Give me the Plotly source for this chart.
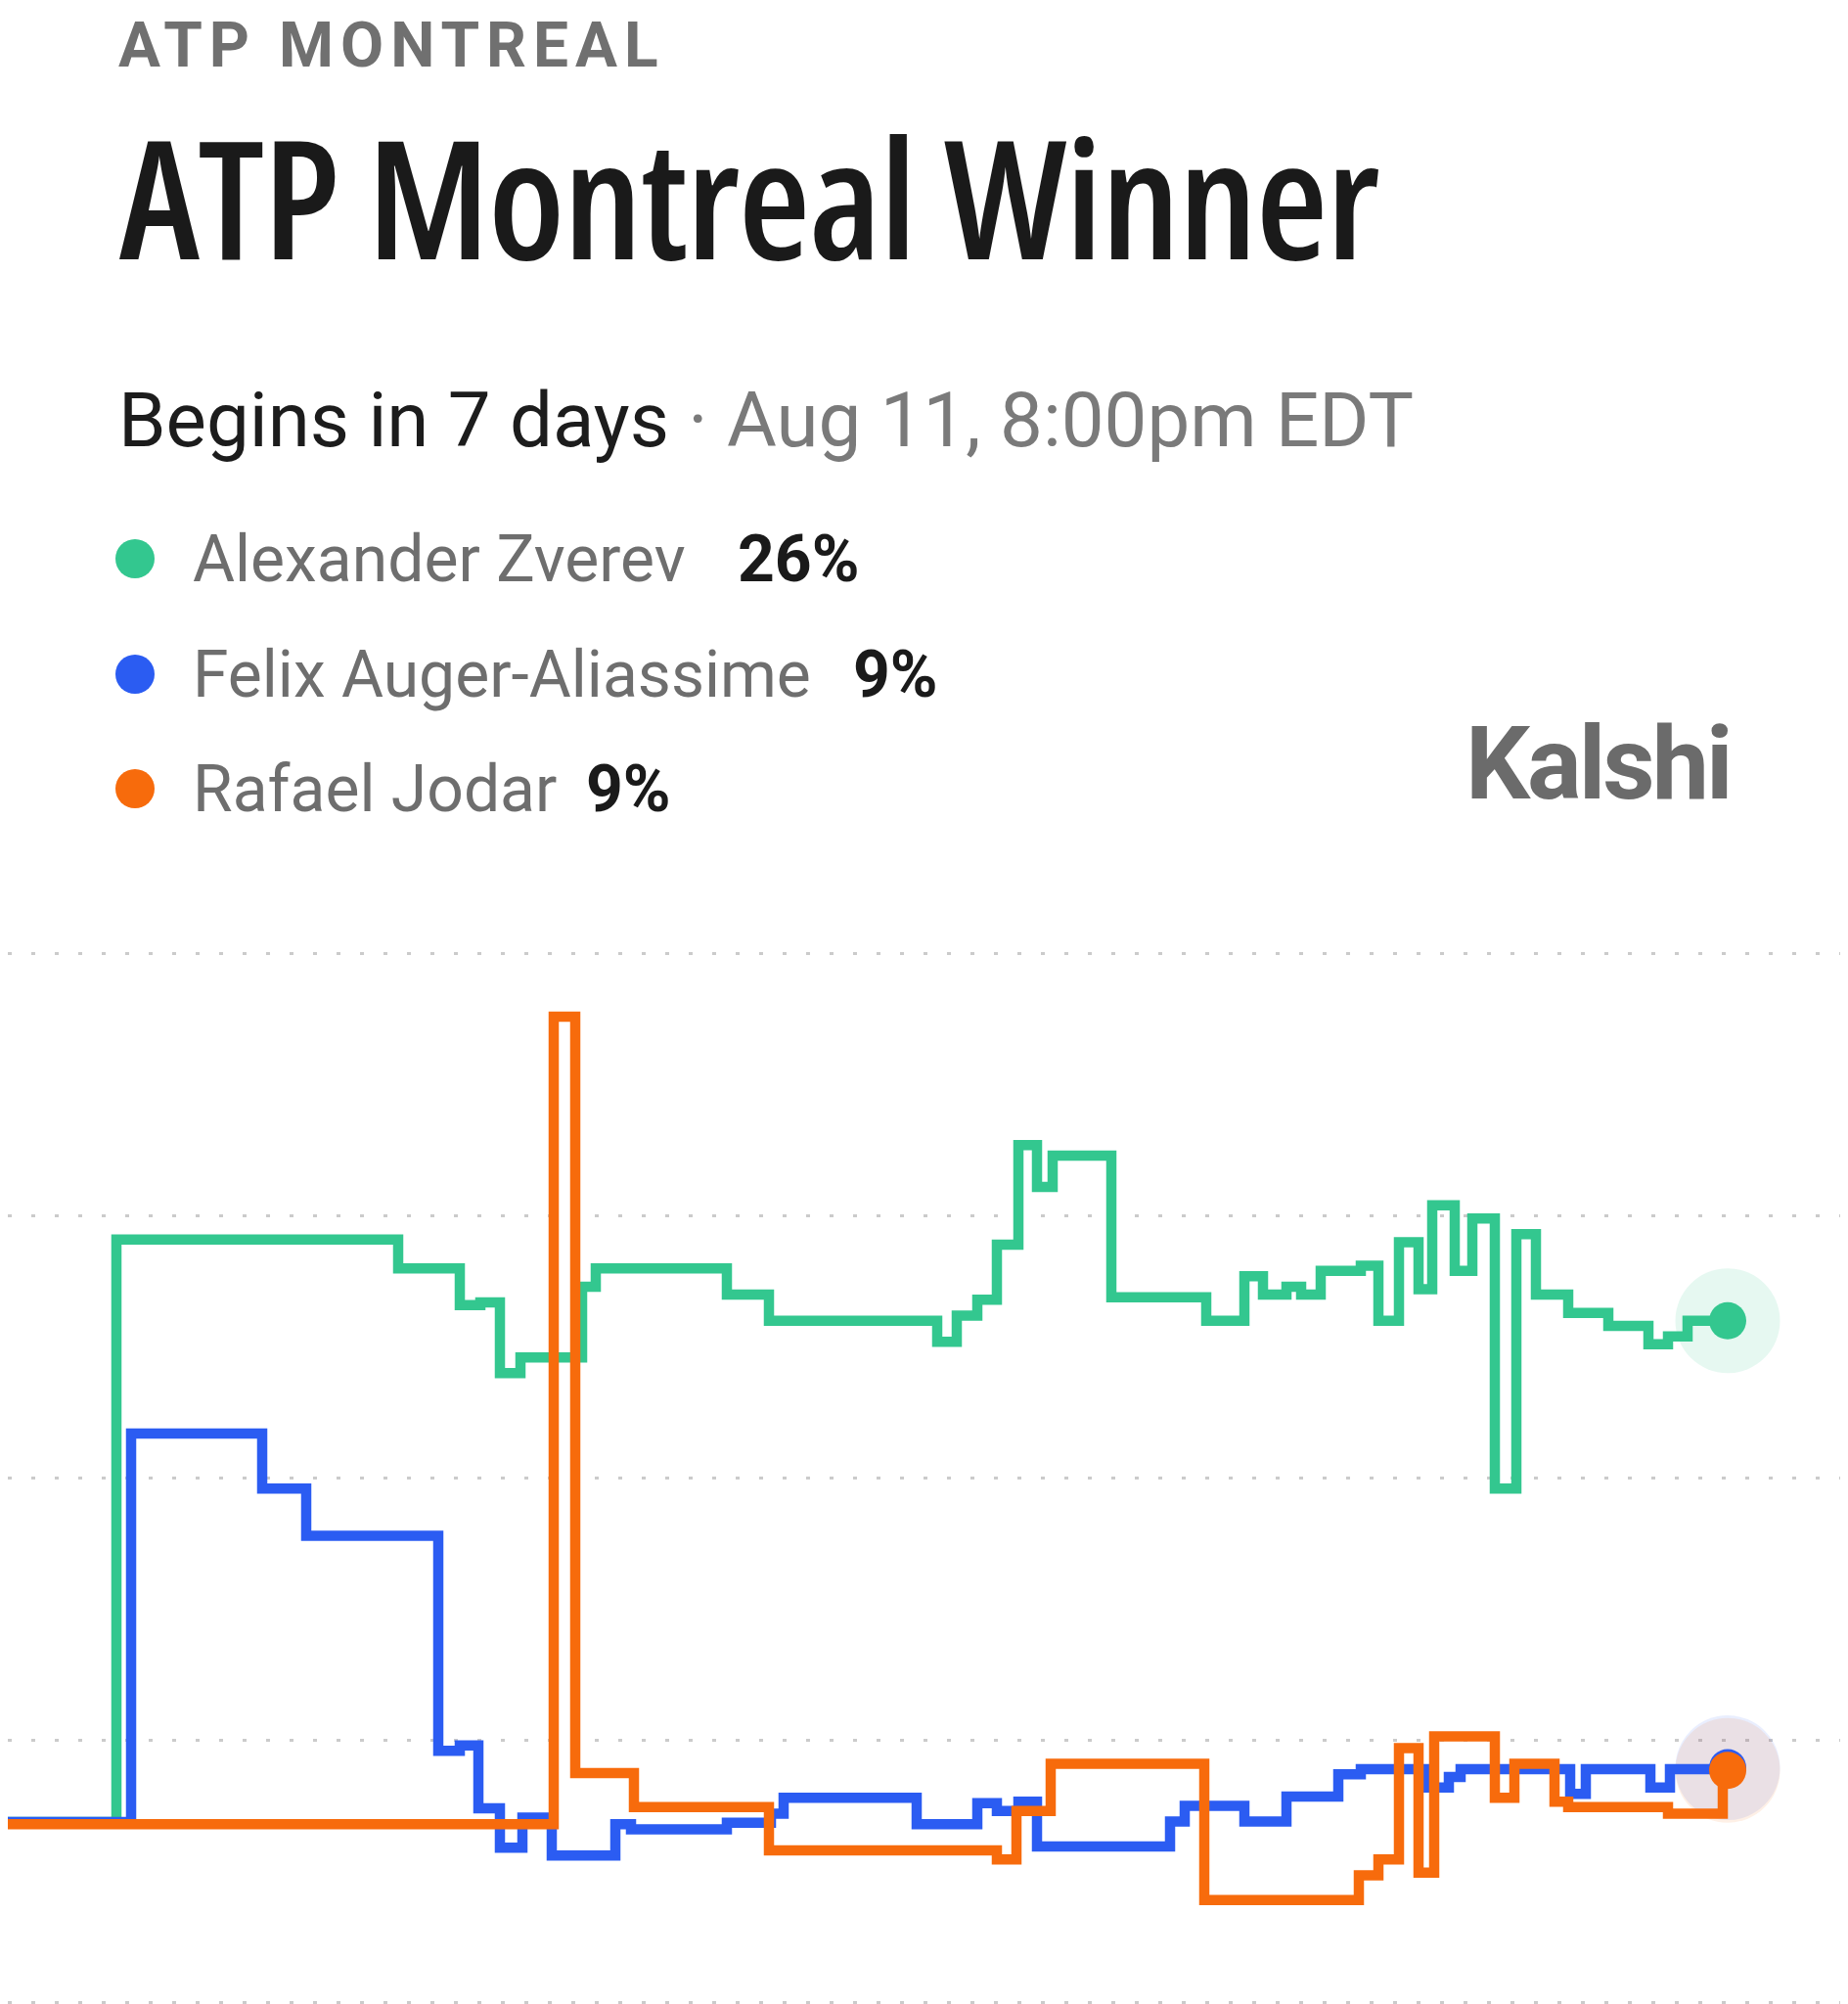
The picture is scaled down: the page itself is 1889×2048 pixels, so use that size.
import plotly.graph_objects as go

# values (t = position along the time axis, v = chance in %)
zverev_t = [0, 118, 406, 469, 490, 510, 531, 594, 608, 742, 785, 957, 977, 998, 1018,
            1040, 1059, 1075, 1135, 1232, 1271, 1290, 1314, 1329, 1349, 1390, 1408,
            1429, 1449, 1463, 1486, 1504, 1527, 1549, 1569, 1602, 1643, 1684, 1704,
            1724, 1765]
zverev_v = [6.88, 29.1, 28.0, 26.6, 26.7, 24.0, 24.6, 27.3, 28.0, 27.0, 26.0, 25.2, 26.2,
            26.8, 28.9, 32.7, 31.1, 32.3, 26.9, 26.0, 27.7, 27.0, 27.3, 27.0, 27.9, 28.1,
            26.0, 29.0, 27.2, 30.4, 27.9, 29.9, 19.6, 29.3, 27.0, 26.3, 25.8, 25.1, 25.4,
            26.0, 26.0]

felix_t = [0, 133, 267, 312, 447, 469, 488, 510, 533, 563, 628, 644, 742, 787, 800, 936,
           998, 1018, 1040, 1059, 1195, 1210, 1271, 1314, 1367, 1390, 1457, 1480, 1492,
           1604, 1620, 1686, 1706, 1765]
felix_v = [6.88, 21.7, 19.6, 17.8, 9.6, 9.8, 7.4, 5.9, 7.05, 5.6, 6.8, 6.6, 6.85, 7.2, 7.8,
           6.8, 7.6, 7.3, 7.65, 5.95, 6.9, 7.5, 6.9, 7.85, 8.7, 8.9, 8.2, 8.6, 8.9, 7.95,
           8.9, 8.2, 8.9, 8.95]

jodar_t = [0, 565, 587, 647, 785, 1018, 1038, 1073, 1230, 1388, 1408, 1429, 1449, 1465,
           1527, 1547, 1588, 1602, 1704, 1760, 1765]
jodar_v = [6.8, 37.6, 8.75, 7.45, 5.8, 5.45, 7.3, 9.1, 3.9, 4.85, 5.45, 9.7, 4.95, 10.15,
           7.8, 9.1, 7.65, 7.45, 7.2, 8.85, 8.85]

names = ["Alexander Zverev", "Felix Auger-Aliassime", "Rafael Jodar"]
current = ["26%", "9%", "9%"]
colors = ["#33c78f", "#2b5cf2", "#f76b0c"]
halos = ["rgba(51,199,143,0.12)", "rgba(43,92,242,0.10)", "rgba(247,107,12,0.10)"]

series = [(zverev_t, zverev_v), (felix_t, felix_v), (jodar_t, jodar_v)]

W, H = 1889, 2048
TOP, BOT = 964, 7
PLOT_H = H - TOP - BOT


def py(y_px):
    # pixel row -> paper coordinate
    return (H - BOT - y_px) / PLOT_H


def px(x_px):
    return x_px / W


fig = go.Figure()

# soft halos behind the last points
for (t, v), h in zip(series, halos):
    fig.add_trace(go.Scatter(x=[t[-1]], y=[v[-1]], mode="markers",
                             marker=dict(size=107, color=h), hoverinfo="skip"))

for (t, v), name, c in zip(series, names, colors):
    fig.add_trace(go.Scatter(x=t, y=v, mode="lines", name=name,
                             line=dict(color=c, width=10.5, shape="hv")))

for (t, v), c in zip(series, colors):
    fig.add_trace(go.Scatter(x=[t[-1]], y=[v[-1]], mode="markers",
                             marker=dict(size=38, color=c), hoverinfo="skip"))

ann = []
ann.append(dict(x=px(111), y=py(39), text='<span style="letter-spacing:7px">ATP MONTREAL</span>',
                font=dict(family="Roboto", size=64, color="#707070", weight=700)))
ann.append(dict(x=px(112), y=py(191),
                text='<span style="font-stretch:condensed;letter-spacing:-1.5px">ATP Montreal Winner</span>',
                font=dict(family="Open Sans", size=169, color="#1a1a1a", weight=600)))
ann.append(dict(x=px(111), y=py(421),
                text='Begins in 7 days<span style="color:#7a7a7a"> · Aug 11, 8:00pm EDT</span>',
                font=dict(family="Roboto", size=78, color="#1c1c1c")))

rows = [563, 681, 798]
pct_x = [744, 862, 589]
for i in range(3):
    ann.append(dict(x=px(187), y=py(rows[i]), text=names[i],
                    font=dict(family="Roboto", size=66, color="#6e6e6e")))
    ann.append(dict(x=px(pct_x[i]), y=py(rows[i]), text=current[i],
                    font=dict(family="Roboto", size=66, color="#1a1a1a", weight=700)))

ann.append(dict(x=px(1488), y=py(772), text='<span style="letter-spacing:-3px">Kalshi</span>',
                font=dict(family="Roboto", size=104, color="#6b6b6b", weight=700)))

for a in ann:
    a.update(xref="paper", yref="paper", xanchor="left", yanchor="middle",
             showarrow=False)

shapes = []
for i in range(3):
    shapes.append(dict(type="circle", xref="paper", yref="paper",
                       xsizemode="pixel", ysizemode="pixel",
                       xanchor=px(130), yanchor=py(rows[i]),
                       x0=-20, x1=20, y0=-20, y1=20,
                       fillcolor=colors[i], line=dict(width=0)))

fig.update_layout(
    width=W, height=H,
    margin=dict(l=0, r=0, t=TOP, b=BOT),
    paper_bgcolor="white", plot_bgcolor="white",
    showlegend=False,
    annotations=ann, shapes=shapes,
    xaxis=dict(range=[7, W + 7], visible=False),
    yaxis=dict(range=[-0.1, 40.1], tickvals=[0, 10, 20, 30, 40], showticklabels=False,
               showgrid=True, gridcolor="#cbcbcb", gridwidth=3, griddash="4px,20px",
               zeroline=False, showline=False, ticks=""),
)

fig.write_html("out.html")
